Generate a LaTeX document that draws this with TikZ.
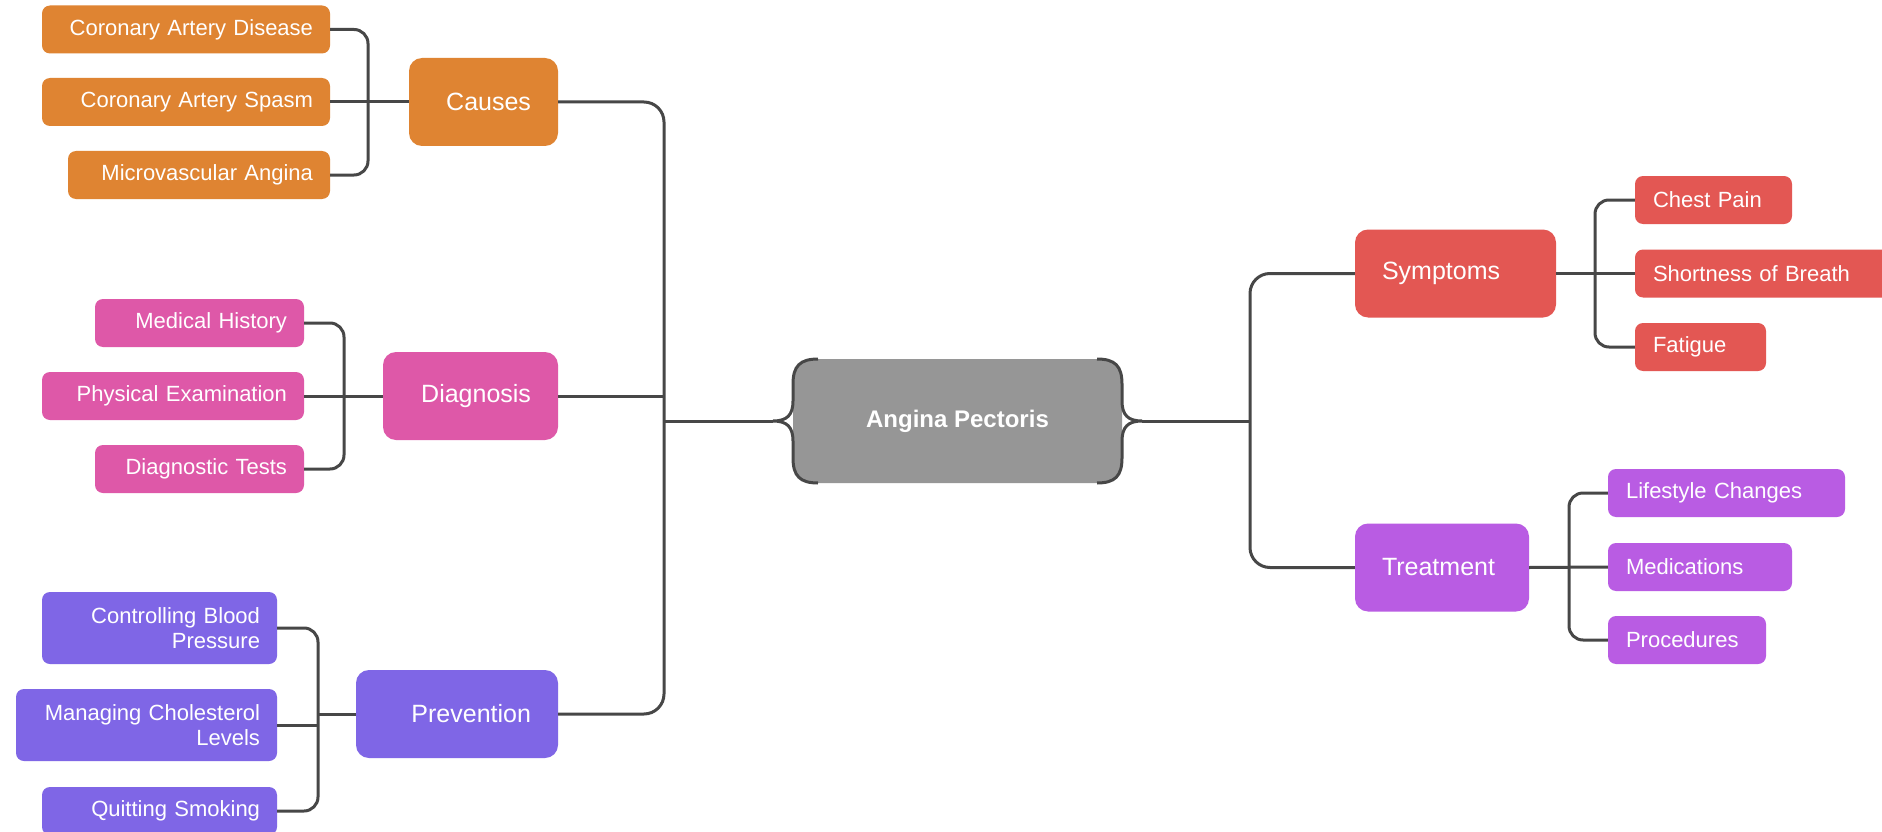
\documentclass[tikz,border=0pt]{standalone}
\usepackage{fontspec}
\setmainfont{Liberation Sans}
\usetikzlibrary{calc}
\definecolor{cOrange}{HTML}{DF8432}
\definecolor{cPink}{HTML}{DE58A8}
\definecolor{cBlue}{HTML}{7F66E6}
\definecolor{cRed}{HTML}{E35753}
\definecolor{cViolet}{HTML}{B95CE3}
\definecolor{cGray}{HTML}{969696}
\definecolor{cLine}{HTML}{474747}
\begin{document}
\begin{tikzpicture}[x=1pt,y=-1pt,
  box/.style={rounded corners=8pt, text=white, inner ysep=0pt, minimum height=48pt},
  leafL/.style={box, inner xsep=17pt, align=right, font=\fontsize{22}{25}\selectfont},
  leafR/.style={box, inner xsep=18pt, align=left, font=\fontsize{22}{25}\selectfont},
  mainL/.style={box, rounded corners=13pt, minimum height=88pt, inner xsep=27pt, align=right, font=\fontsize{25}{30}\selectfont},
  mainR/.style={box, rounded corners=13pt, minimum height=88pt, inner xsep=27pt, align=left, font=\fontsize{25}{30}\selectfont},
  conn/.style={draw=cLine, line width=3pt, rounded corners=14pt},
  trunk/.style={draw=cLine, line width=3pt, rounded corners=20pt},
  bracestyle/.style={draw=cLine, line width=3pt}]
\fill[white] (0,0) rectangle (1882,832);
\useasboundingbox (0,0) rectangle (1882,832);

% central
\node[fill=cGray, rounded corners=22pt, minimum width=329pt, minimum height=124pt, inner sep=0pt,
      text=white, font=\bfseries\fontsize{24}{28}\selectfont] (ap) at (957.5,421) {Angina Pectoris};
\draw[bracestyle] (818,359) .. controls (800,359) and (793,366) .. (793,384) -- (793,401)
   .. controls (793,415) and (787,421) .. (773,421)
   .. controls (787,421) and (793,427) .. (793,441) -- (793,458)
   .. controls (793,476) and (800,483) .. (818,483);
\draw[bracestyle] (1097,359) .. controls (1115,359) and (1122,366) .. (1122,384) -- (1122,401)
   .. controls (1122,415) and (1128,421) .. (1142,421)
   .. controls (1128,421) and (1122,427) .. (1122,441) -- (1122,458)
   .. controls (1122,476) and (1115,483) .. (1097,483);
\coordinate (apl) at (773,421);
\coordinate (apr) at (1142,421);

% main nodes
\node[mainL, fill=cOrange, text width=95pt] (causes) at (483.5,102) {Causes};
\node[mainL, fill=cPink, text width=121pt] (diag) at (470.5,396) {Diagnosis};
\node[mainL, fill=cBlue, text width=148pt] (prev) at (457,714) {Prevention};
\node[mainR, fill=cRed, text width=147pt] (sym) at (1455.5,273.5) {Symptoms};
\node[mainR, fill=cViolet, text width=120pt] (tre) at (1442,567.5) {Treatment};

% causes leaves
\node[leafL, fill=cOrange, text width=254pt] (cad) at (186,29.5) {Coronary Artery Disease};
\node[leafL, fill=cOrange, text width=254pt] (cas) at (186,102) {Coronary Artery Spasm};
\node[leafL, fill=cOrange, text width=228pt] (mva) at (199,175) {Microvascular Angina};
% diagnosis leaves
\node[leafL, fill=cPink, text width=175pt] (mh) at (199.5,323) {Medical History};
\node[leafL, fill=cPink, text width=228pt] (pe) at (173,396) {Physical Examination};
\node[leafL, fill=cPink, text width=175pt] (dt) at (199.5,469) {Diagnostic Tests};
% prevention leaves
\node[leafL, fill=cBlue, text width=201pt, minimum height=72pt] (cbp) at (159.5,628) {Controlling Blood\\Pressure};
\node[leafL, fill=cBlue, text width=227pt, minimum height=72pt] (mcl) at (146.5,725) {Managing Cholesterol\\Levels};
\node[leafL, fill=cBlue, text width=201pt] (qs) at (159.5,811) {Quitting Smoking};
% symptoms leaves
\node[leafR, fill=cRed, text width=121pt] (cp) at (1713.5,200) {Chest Pain};
\node[leafR, fill=cRed, text width=234pt] (sob) at (1770,273.5) {Shortness of Breath};
\node[leafR, fill=cRed, text width=95pt] (fat) at (1700.5,347) {Fatigue};
% treatment leaves
\node[leafR, fill=cViolet, text width=201pt] (lc) at (1726.5,493) {Lifestyle Changes};
\node[leafR, fill=cViolet, text width=148pt] (med) at (1700,567) {Medications};
\node[leafR, fill=cViolet, text width=122pt] (pro) at (1687,640) {Procedures};

% trunks
\coordinate (lt) at (664,421);
\draw[trunk] (causes.east) -| (lt) |- (prev.east);
\draw[trunk] (diag.east) -- (diag.east -| lt);
\draw[trunk] (lt) -- (apl);
\coordinate (rt) at (1250,421);
\draw[trunk] (sym.west) -| (rt) |- (tre.west);
\draw[trunk] (apr) -- (rt);

% sub brackets
\coordinate (cb) at (368,102);
\draw[conn] (cad.east) -| (cb) |- (mva.east);
\draw[conn] (cas.east) -- (causes.west);
\coordinate (db) at (344,396);
\draw[conn] (mh.east) -| (db) |- (dt.east);
\draw[conn] (pe.east) -- (diag.west);
\coordinate (pb) at (318,714);
\draw[conn] (cbp.east) -| (pb) |- (qs.east);
\draw[conn] (mcl.east) -- (mcl.east -| pb);
\draw[conn] (pb) -- (prev.west);
\coordinate (sb) at (1595,273.5);
\draw[conn] (cp.west) -| (sb) |- (fat.west);
\draw[conn] (sym.east) -- (sob.west);
\coordinate (tb) at (1569,567);
\draw[conn] (lc.west) -| (tb) |- (pro.west);
\draw[conn] (tre.east) -- (med.west);
\end{tikzpicture}
\end{document}
